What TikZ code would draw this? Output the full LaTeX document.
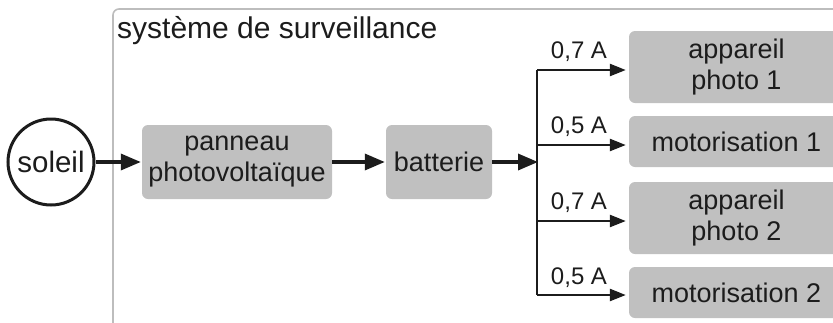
\documentclass[tikz,border=0pt]{standalone}
\usepackage{fontspec}
\setmainfont{Liberation Sans}
\usetikzlibrary{arrows.meta}
\definecolor{boxgray}{HTML}{C0C0C0}
\definecolor{framegray}{HTML}{BDBDBD}
\definecolor{ink}{HTML}{1C1C1C}
\begin{document}
\begin{tikzpicture}[x=1pt,y=-1pt,
  box/.style={fill=boxgray, rounded corners=6pt, inner sep=0pt, align=center,
    font=\fontsize{27}{31}\selectfont, text=ink},
  flow/.style={draw=ink, line width=3.4pt, -{Triangle[length=20pt,width=16pt]}},
  branch/.style={draw=ink, line width=2.4pt, -{Triangle[length=16pt,width=12pt]}},
  amp/.style={font=\fontsize{24}{28}\selectfont, text=ink, anchor=base, inner sep=0pt}]
\useasboundingbox (0,0) rectangle (833,322);
\clip (0,0) rectangle (833,322);
\draw[framegray, line width=1.6pt, rounded corners=6pt] (113,9) rectangle (900,400);
\node[anchor=base west, inner sep=0pt, font=\fontsize{30}{34}\selectfont, text=ink] (title) at (117,38) {système de surveillance};
\node[circle, draw=ink, line width=3pt, minimum size=86pt, inner sep=0pt,
  font=\fontsize{29.5}{33}\selectfont, text=ink] (soleil) at (51,162) {soleil};
\node[box, minimum width=190pt, minimum height=74pt] (panneau) at (237,162) {panneau\\photovoltaïque};
\node[box, minimum width=106pt, minimum height=74pt] (batterie) at (439,162) {batterie};
\node[box, minimum width=215pt, minimum height=72pt] (b1) at (736.5,67) {appareil\\photo 1};
\node[box, minimum width=215pt, minimum height=51pt] (b2) at (736.5,141.5) {motorisation 1};
\node[box, minimum width=215pt, minimum height=72pt] (b3) at (736.5,218) {appareil\\photo 2};
\node[box, minimum width=215pt, minimum height=51pt] (b4) at (736.5,292.5) {motorisation 2};
\coordinate (jn) at (538,162);
\coordinate (j1) at (537,70);
\coordinate (j2) at (537,145);
\coordinate (j3) at (537,221);
\coordinate (j4) at (537,295);
\draw[flow, shorten >=1pt] (soleil.east) -- (soleil.east -| panneau.west);
\draw[flow, shorten >=1pt] (panneau.east) -- (batterie.west);
\draw[flow] (batterie.east) -- (jn);
\draw[ink, line width=2.8pt] (j1) -- (j4);
\draw[branch, shorten >=3pt] (j1) -- (j1 -| b1.west);
\draw[branch, shorten >=3pt] (j2) -- (j2 -| b2.west);
\draw[branch, shorten >=3pt] (j3) -- (j3 -| b3.west);
\draw[branch, shorten >=3pt] (j4) -- (j4 -| b4.west);
\node[amp] (l1) at (579,58) {0,7 A};
\node[amp] (l2) at (579,133) {0,5 A};
\node[amp] (l3) at (579,209) {0,7 A};
\node[amp] (l4) at (579,284) {0,5 A};
\end{tikzpicture}
\end{document}
